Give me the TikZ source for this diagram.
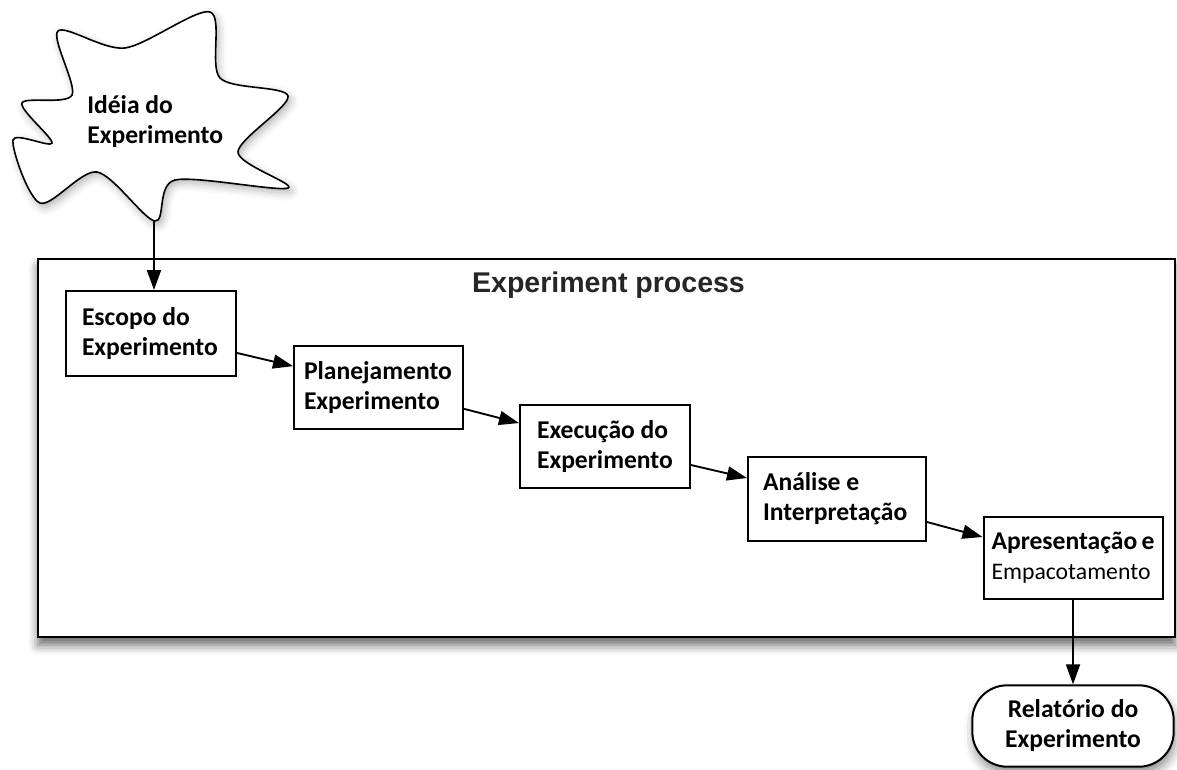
\documentclass[tikz,border=0pt]{standalone}
\usepackage{fontspec}
\newfontfamily\carlito{Carlito}
\newfontfamily\libsans{Liberation Sans}
\usetikzlibrary{arrows.meta,shadows.blur,calc}
\definecolor{titlegray}{HTML}{262626}
\tikzset{
  stepbox/.style={draw=black, line width=1.5pt, fill=white, inner sep=0pt, align=flush left,
    font=\carlito\bfseries\fontsize{19.2}{22.5}\selectfont,
    execute at begin node={\hyphenpenalty=10000\relax}},
  lbl/.style={inner sep=0pt, align=left, font=\carlito\bfseries\fontsize{19.2}{22.5}\selectfont},
  flow/.style={draw=black, line width=1.4pt, -{Triangle[length=15pt,width=10.5pt]}},
  frameshadow/.style={blur shadow={shadow xshift=0pt, shadow yshift=-6pt, shadow blur radius=7pt, shadow opacity=60}},
  softshadow/.style={blur shadow={shadow xshift=1pt, shadow yshift=-5pt, shadow blur radius=7pt, shadow opacity=45}},
}
\begin{document}
\begin{tikzpicture}[x=0.75pt,y=-0.75pt]
\useasboundingbox (0,0) rectangle (1177,769);
% process frame
\node[draw=black, line width=1.5pt, fill=white, frameshadow, inner sep=0pt,
      minimum width=852.75pt, minimum height=283.5pt] (proc) at (606.5,448) {};
\node[inner sep=0pt, anchor=base, text=titlegray,
      font=\libsans\bfseries\fontsize{21.4}{25}\selectfont] (title) at (608.5,292) {Experiment process};
% idea cloud
\draw[line width=1.2pt, fill=white,
      blur shadow={shadow xshift=2pt, shadow yshift=-3pt, shadow blur radius=6pt, shadow opacity=30}]
  plot[smooth cycle, tension=0.5] coordinates {(58,31) (125,48) (210,12) (220,78) (288,96) (238,152)
    (288,188) (175,180) (155,221) (97,172) (40,203) (13,140) (52,143) (22,103) (72,95)};
\coordinate (ideatip) at (154,221);
\node[lbl, anchor=west] (idea) at (87,121.5) {Idéia do\\Experimento};
% steps
\node[stepbox, minimum width=127.5pt, minimum height=63.75pt, text width=103.5pt] (esc) at (151,333.5) {Escopo~do\\Experimento};
\node[stepbox, minimum width=126.75pt, minimum height=62.25pt, text width=111.75pt] (plan) at (378.5,387.5) {Planejamento\\Experimento};
\node[stepbox, minimum width=127.5pt, minimum height=62.25pt, text width=102pt] (exe) at (605,446.5) {Execução~do\\Experimento};
\node[stepbox, minimum width=133.5pt, minimum height=63pt, text width=111pt] (ana) at (837,499) {Análise~e\\Interpretação};
\node[stepbox, minimum width=134.25pt, minimum height=61.5pt, text width=122.25pt] (apr) at (1073,558) {Apresentação~e\\\mdseries\fontsize{17.8}{22.5}\selectfont Empacotamento};
\node[stepbox, align=center, rounded corners=26pt, softshadow, minimum width=151pt, minimum height=61pt] (rel) at (1073,726) {Relatório~do\\Experimento};
% connectors
\draw[flow] (ideatip) -- (ideatip |- esc.north);
\draw[flow] ([yshift=-14.6pt]esc.east) -- ([yshift=16pt]plan.west);
\draw[flow] ([yshift=-16pt]plan.east) -- ([yshift=17.6pt]exe.west);
\draw[flow] ([yshift=-13.9pt]exe.east) -- ([yshift=15.75pt]ana.west);
\draw[flow] ([yshift=-17.25pt]ana.east) -- ([yshift=15.75pt]apr.west);
\draw[flow] (apr.south) -- (apr.south |- rel.north);
\end{tikzpicture}
\end{document}
